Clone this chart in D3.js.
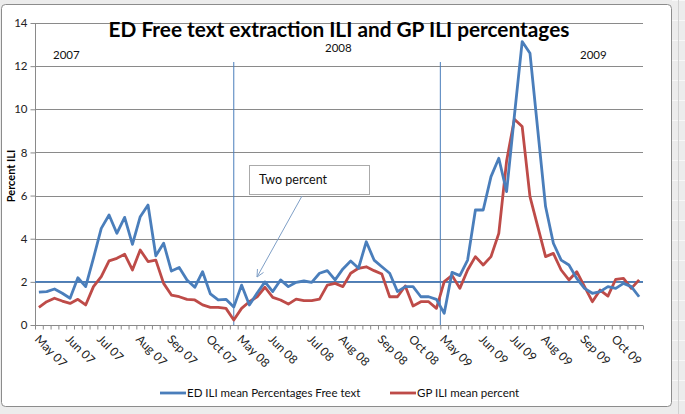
<!DOCTYPE html>
<html><head><meta charset="utf-8">
<script src="https://cdn.jsdelivr.net/npm/d3@7"></script>
<style>
html,body{margin:0;padding:0;background:#e9e9e9;}
svg{display:block;}
</style></head>
<body>
<script>
const title = "ED Free text extraction ILI and GP ILI percentages";
const seriesNames = ["ED ILI mean Percentages Free text", "GP ILI mean percent"];
const years = ["2007", "2008", "2009"];
const weeksPerYear = 26;
const monthLabels = ["May 07","Jun 07","Jul 07","Aug 07","Sep 07","Oct 07",
                     "May 08","Jun 08","Jul 08","Aug 08","Sep 08","Oct 08",
                     "May 09","Jun 09","Jul 09","Aug 09","Sep 09","Oct 09"];
const monthWeekIndex = [0,4,8,13,17,22, 26,30,35,39,44,48, 52,57,61,65,70,74];
const yTicks = [0,2,4,6,8,10,12,14];
const thresholdValue = 2;
const annotationText = "Two percent";

const edValues = [
  1.52,1.55,1.67,1.47,1.24,2.19,1.78,3.1,4.48,5.10,4.25,4.99,3.74,5.02,5.56,3.21,3.79,2.50,2.67,2.09,1.75,2.47,1.44,1.16,1.19,0.83,
  1.85,0.93,1.48,2.0,1.55,2.09,1.78,1.98,2.04,1.98,2.40,2.52,2.09,2.6,2.97,2.63,3.86,3.01,2.70,2.40,1.55,1.78,1.78,1.31,1.31,1.19,
  0.54,2.44,2.29,3.01,5.33,5.33,6.88,7.73,6.18,9.7,13.14,12.6,9.04,5.49,3.79,3.01,2.78,2.16,1.70,1.47,1.55,1.78,1.70,1.93,1.78,1.31
];
const gpValues = [
  0.82,1.08,1.24,1.11,1.0,1.19,0.93,1.78,2.24,2.97,3.09,3.28,2.55,3.48,2.94,3.01,1.93,1.39,1.31,1.19,1.16,0.93,0.82,0.82,0.77,0.23,
  0.77,1.08,1.31,1.75,1.28,1.16,0.97,1.2,1.13,1.13,1.2,1.85,1.93,1.78,2.40,2.63,2.70,2.52,2.36,1.31,1.31,1.81,0.88,1.08,1.08,0.77,
  2.01,2.3,1.70,2.55,3.17,2.78,3.17,4.25,7.6,9.54,9.2,5.95,4.56,3.17,3.32,2.55,2.09,2.47,1.78,1.08,1.62,1.34,2.12,2.16,1.70,2.09
];

const W = 685, H = 414;
const FONT = "Lato, 'Open Sans', sans-serif";
const blue = "#4a7ebb", red = "#be4b48", grid = "#8a8a8a";
const n = edValues.length;

const svg = d3.select("body").append("svg").attr("width", W).attr("height", H);

// spreadsheet background hints
const bg = svg.append("g");
bg.append("rect").attr("x",0).attr("y",0).attr("width",W).attr("height",H).attr("fill","#ececec");
d3.range(0, H, 20).forEach(yy=>{
  bg.append("line").attr("x1",672).attr("x2",W).attr("y1",yy+0.5).attr("y2",yy+0.5).attr("stroke","#f8f8f8");
});
bg.append("line").attr("x1",678.5).attr("x2",678.5).attr("y1",0).attr("y2",H).attr("stroke","#d0d0d0");

// chart frame
svg.append("rect").attr("x",1.5).attr("y",4.5).attr("width",670).attr("height",402).attr("rx",4)
  .attr("fill","#fff").attr("stroke","#8c8c8c");

const pLeft = 35, pRight = 643, pTop = 23, pBottom = 325;
const xb = d3.scaleLinear().domain([0, n]).range([pLeft, pRight]);
const xc = i => xb(i + 0.5);
const y = d3.scaleLinear().domain([0, 14]).range([pBottom, pTop]);

// gridlines
svg.append("g").selectAll("line").data(yTicks.filter(v=>v>0)).join("line")
  .attr("x1", pLeft).attr("x2", pRight)
  .attr("y1", d=>Math.round(y(d))+0.5).attr("y2", d=>Math.round(y(d))+0.5)
  .attr("stroke", grid).attr("stroke-width", 1);

// y axis
const yAxis = svg.append("g").attr("transform", `translate(${pLeft+0.5},0)`)
  .call(d3.axisLeft(y).tickValues(yTicks).tickSize(5).tickPadding(3).tickFormat(d3.format("d")));
yAxis.select(".domain").attr("stroke", grid).attr("d", `M0,${pTop}V${pBottom}`);
yAxis.selectAll(".tick line").attr("stroke", grid);
yAxis.selectAll("text").attr("font-family", FONT).attr("font-size", 11.5).attr("fill", "#222");

// x axis
const xAxis = svg.append("g").attr("transform", `translate(0,${pBottom+0.5})`)
  .call(d3.axisBottom(xb).tickValues(d3.range(n+1)).tickSize(4).tickFormat(""));
xAxis.select(".domain").attr("stroke", grid).attr("d", `M${pLeft},0H${pRight}`);
xAxis.selectAll(".tick line").attr("stroke", grid);

// month labels
svg.append("g").selectAll("text").data(monthLabels).join("text")
  .attr("transform", (d,i)=>`translate(${xc(monthWeekIndex[i]) - 5},${pBottom+15}) rotate(45)`)
  .attr("font-family", FONT).attr("font-size", 12).attr("fill", "#222")
  .text(d=>d);

// threshold line
svg.append("line").attr("x1", pLeft).attr("x2", pRight)
  .attr("y1", y(thresholdValue)).attr("y2", y(thresholdValue))
  .attr("stroke", blue).attr("stroke-width", 1.6);

// year divider lines
const dividers = [weeksPerYear - 1, 2*weeksPerYear - 0.5];
svg.append("g").selectAll("line").data(dividers).join("line")
  .attr("x1", d=>xc(d)).attr("x2", d=>xc(d))
  .attr("y1", 62).attr("y2", pBottom)
  .attr("stroke", blue).attr("stroke-width", 1);

// series lines
const line = d3.line().x((d,i)=>xc(i)).y(d=>y(d));
svg.append("path").datum(gpValues).attr("d", line).attr("fill","none")
  .attr("stroke", red).attr("stroke-width", 2.8).attr("stroke-linejoin","round");
svg.append("path").datum(edValues).attr("d", line).attr("fill","none")
  .attr("stroke", blue).attr("stroke-width", 2.8).attr("stroke-linejoin","round");

// title
svg.append("text").attr("x", 339).attr("y", 37).attr("text-anchor","middle")
  .attr("font-family", FONT).attr("font-weight","bold").attr("font-size", 20.8).attr("fill","#000")
  .text(title);

// year labels
const yearPos = [[53,59],[325,52],[580,59]];
svg.append("g").selectAll("text").data(years).join("text")
  .attr("x",(d,i)=>yearPos[i][0]).attr("y",(d,i)=>yearPos[i][1])
  .attr("font-family", FONT).attr("font-size", 11.5).attr("fill","#111").text(d=>d);

// y-axis title
svg.append("text").attr("transform","translate(15,176) rotate(-90)").attr("text-anchor","middle")
  .attr("font-family", FONT).attr("font-weight","bold").attr("font-size", 11).attr("fill","#000")
  .text("Percent ILI");

// annotation
svg.append("rect").attr("x",249.5).attr("y",165.5).attr("width",120).attr("height",29)
  .attr("fill","#fff").attr("stroke","#aaa");
svg.append("text").attr("x",259).attr("y",184).attr("font-family", FONT).attr("font-size", 12.5)
  .attr("fill","#111").text(annotationText);
const ax1 = 302, ay1 = 196, ax2 = 257, ay2 = 277;
svg.append("line").attr("x1",ax1).attr("y1",ay1).attr("x2",ax2).attr("y2",ay2)
  .attr("stroke","#7f9fc6").attr("stroke-width",1);
const ang = Math.atan2(ay2-ay1, ax2-ax1);
[ -0.45, 0.45 ].forEach(da=>{
  svg.append("line").attr("x1",ax2).attr("y1",ay2)
    .attr("x2", ax2 - 8*Math.cos(ang+da)).attr("y2", ay2 - 8*Math.sin(ang+da))
    .attr("stroke","#7f9fc6").attr("stroke-width",1);
});

// legend
const legend = svg.append("g");
const legItems = [{name: seriesNames[0], color: blue, x: 160}, {name: seriesNames[1], color: red, x: 390}];
legItems.forEach(it=>{
  legend.append("line").attr("x1", it.x).attr("x2", it.x+26).attr("y1", 393).attr("y2", 393)
    .attr("stroke", it.color).attr("stroke-width", 2.8);
  legend.append("text").attr("x", it.x+27).attr("y", 397).attr("font-family", FONT).attr("font-size", 11.5)
    .attr("fill","#111").text(it.name);
});
</script>
</body></html>
